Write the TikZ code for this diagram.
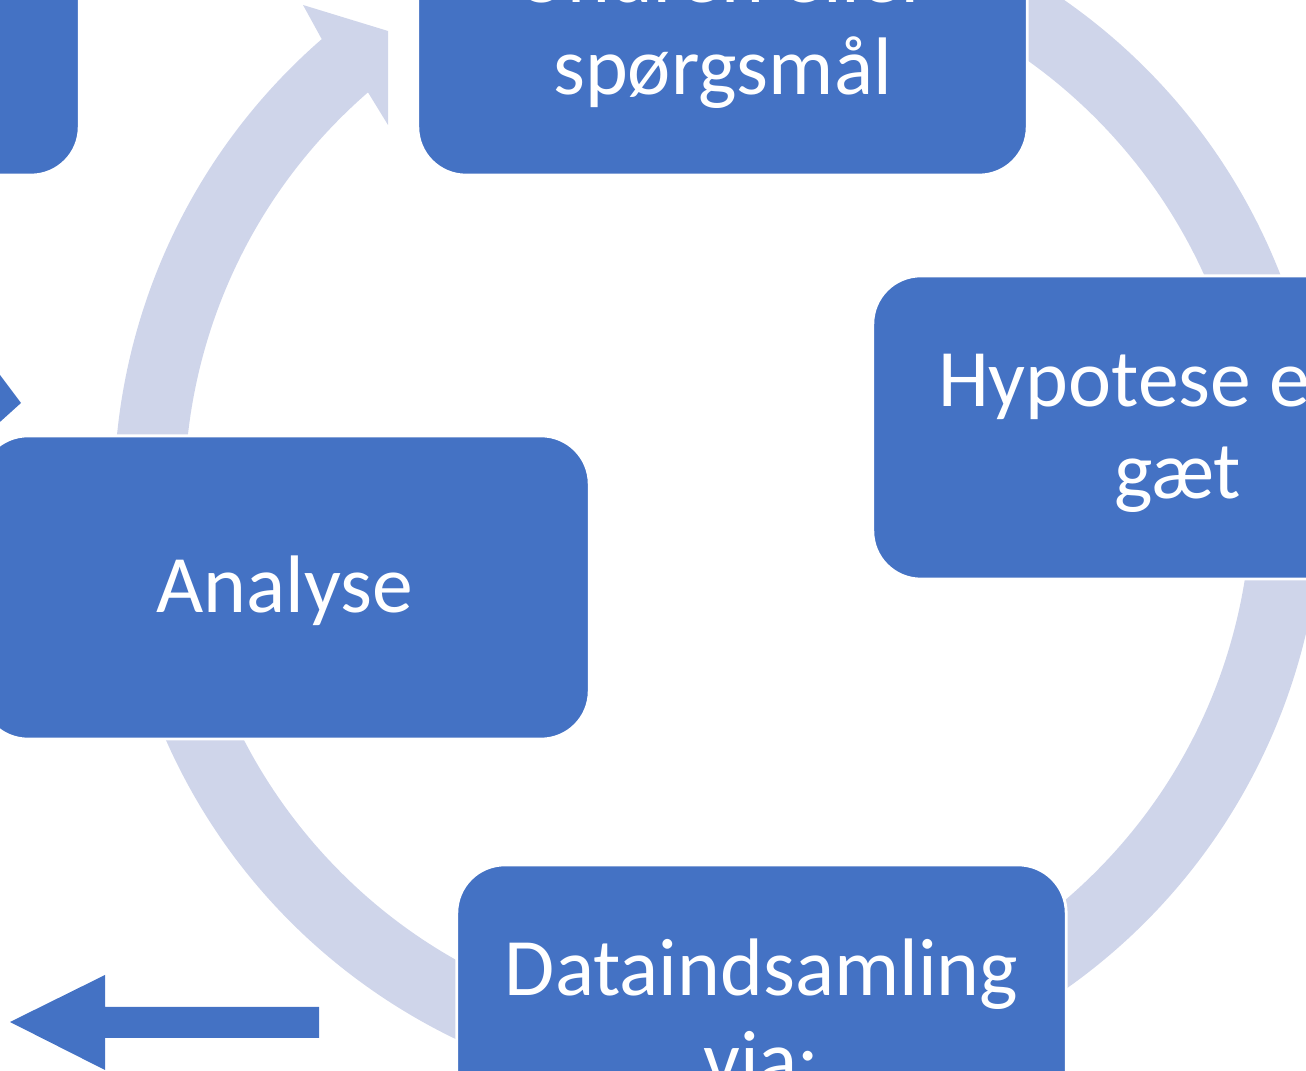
\documentclass[tikz,border=0pt]{standalone}
\usepackage{fontspec}
\setmainfont{Carlito}
\definecolor{stageblue}{HTML}{4472C4}
\definecolor{ringgrey}{HTML}{CFD5EA}
\newcommand{\stagetop}{\rule{0pt}{20.3pt}}
\newcommand{\stagebottom}{\rule[-5.85pt]{0pt}{0pt}}
\begin{document}
\begin{tikzpicture}[x=0.01cm, y=-0.01cm,
    stage/.style = {draw=white, line width=0.8pt, fill=stageblue, rounded corners=0.48cm,
                    minimum width=6.09cm, minimum height=3.03cm, inner sep=0pt,
                    text=white, align=center, font=\fontsize{23.2}{26.2}\selectfont},
    ring/.style = {fill=ringgrey}]
    \useasboundingbox (0,0) rectangle (1306,1071);
    \clip (0,0) rectangle (1306,1071);

    % ring with arrow head
    \begin{scope}[shift={(718,495)}, yscale=-1]
        \fill[ring] (131:604) -- (-415,490) -- (-330,464) -- (-330,370) -- (131:533.5)
            arc[start angle=131, end angle=470, radius=533.5] -- (470:604)
            arc[start angle=470, end angle=131, radius=604] -- cycle;
    \end{scope}

    % stages
    \node[stage] (undren) at (722.5,23.5) {\stagetop Undren eller\\spørgsmål\stagebottom};
    \node[stage] (hypotese) at (1177.5,427.5) {\stagetop Hypotese eller\\gæt\stagebottom};
    \node[stage] (data) at (761.5,1016.5) {\stagetop Dataindsamling\\via:\stagebottom};
    \node[stage] (analyse) at (284.5,587.5) {\stagetop Analyse\stagebottom};
    \node[stage] (venstre) at (-225.5,23.5) {};

    % side arrows
    \fill[stageblue] (-60,295) -- (21,403) -- (-60,476) -- cycle;
    \fill[stageblue] (10,1022) -- (105,975) -- (105,1007) -- (319,1007)
        -- (319,1038) -- (105,1038) -- (105,1070) -- cycle;
\end{tikzpicture}
\end{document}
